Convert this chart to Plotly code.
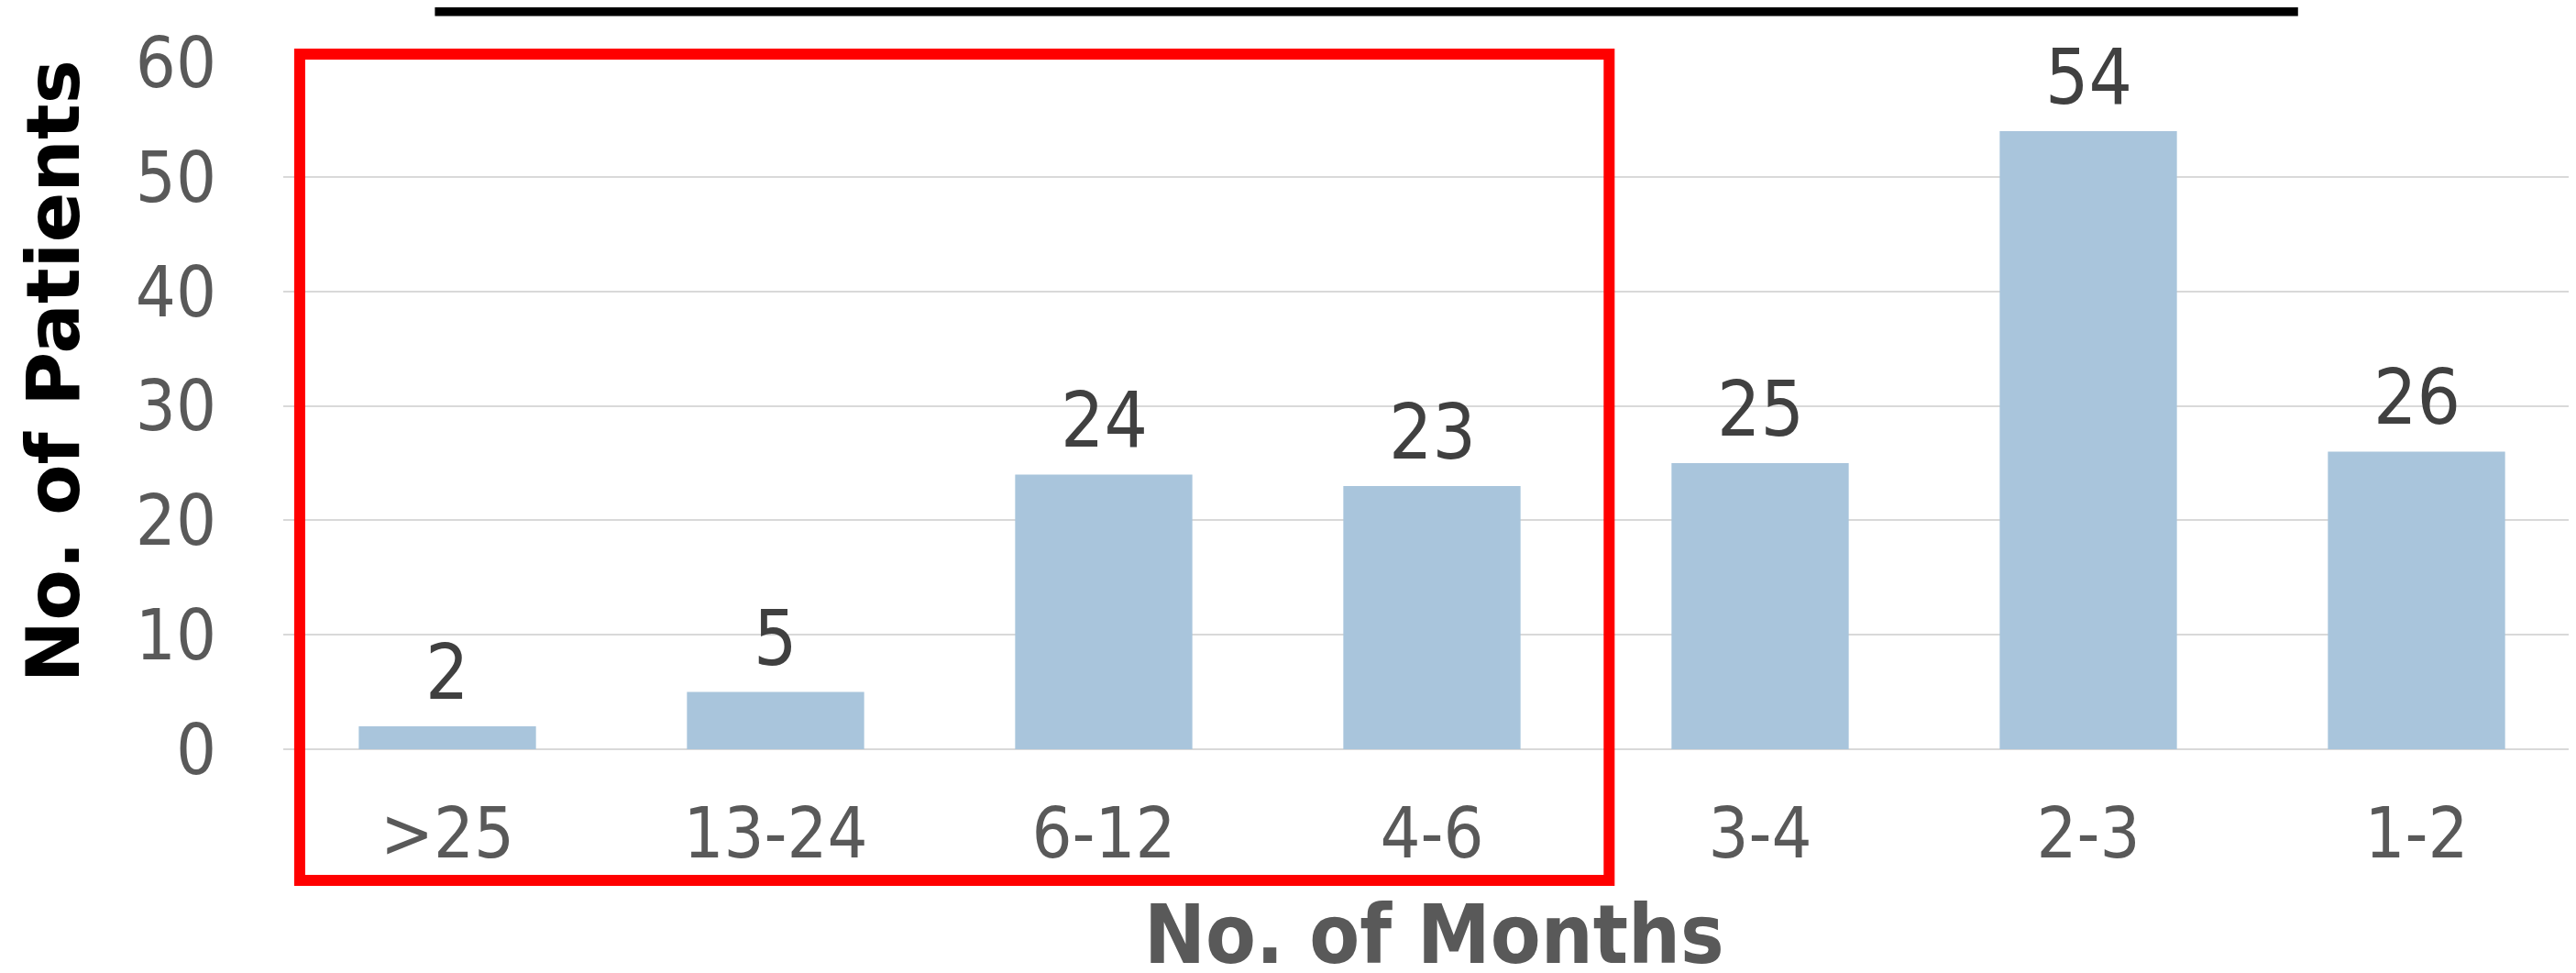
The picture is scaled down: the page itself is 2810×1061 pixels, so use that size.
import plotly.graph_objects as go

categories = [">25", "13-24", "6-12", "4-6", "3-4", "2-3", "1-2"]
patients = [2, 5, 24, 23, 25, 54, 26]
y_ticks = [0, 10, 20, 30, 40, 50, 60]

W, H = 2810, 1061
ML, MR, MT, MB = 301, 3, 60, 252

fig = go.Figure()
fig.add_trace(go.Bar(
    x=categories, y=patients,
    marker=dict(color="#A9C5DC", line=dict(width=0)),
    showlegend=False, hoverinfo="skip",
))

for c, v in zip(categories, patients):
    fig.add_annotation(
        x=c, y=v, xref="x", yref="y", text=str(v), showarrow=False,
        yanchor="bottom", yshift=8,
        font=dict(family="DejaVu Sans Condensed", size=83, color="#404040"),
    )

# axis titles
fig.add_annotation(
    x=-0.1, y=0.55, xref="paper", yref="paper", text="<b>No. of Patients</b>",
    textangle=-90, showarrow=False, xanchor="center", yanchor="middle",
    font=dict(family="DejaVu Sans", size=81, color="#000000"),
)
fig.add_annotation(
    x=0.5008, y=-0.27, xref="paper", yref="paper", text="<b>No. of Months</b>",
    showarrow=False, xanchor="center", yanchor="middle",
    font=dict(family="DejaVu Sans Condensed", size=89, color="#595959"),
)

# red highlight box around first four categories
fig.add_shape(
    type="rect", xref="x", yref="paper",
    x0=-0.45, x1=3.54, y0=-0.191, y1=1.012,
    line=dict(color="#FF0000", width=12),
)
# black line at top (cut-off element)
fig.add_shape(
    type="line", xref="paper", yref="paper",
    x0=0.066, x1=0.877, y0=1.074, y1=1.074,
    line=dict(color="#000000", width=10),
)

fig.update_layout(
    width=W, height=H,
    margin=dict(l=ML, r=MR, t=MT, b=MB, pad=0, autoexpand=False),
    paper_bgcolor="white", plot_bgcolor="white",
    bargap=0.46,
    xaxis=dict(
        type="category", showgrid=False, showline=False, ticks="",
        automargin=False,
        tickfont=dict(family="DejaVu Sans Condensed", size=77, color="#595959"),
        ticklabelstandoff=40,
    ),
    yaxis=dict(
        range=[0, 60], tickvals=y_ticks, showgrid=True, gridcolor="#D9D9D9",
        gridwidth=2, zeroline=True, zerolinecolor="#D9D9D9", zerolinewidth=2,
        showline=False, ticks="", automargin=False,
        tickfont=dict(family="DejaVu Sans Condensed", size=77, color="#595959"),
        ticklabelstandoff=72,
    ),
)

fig.write_html("out.html")
